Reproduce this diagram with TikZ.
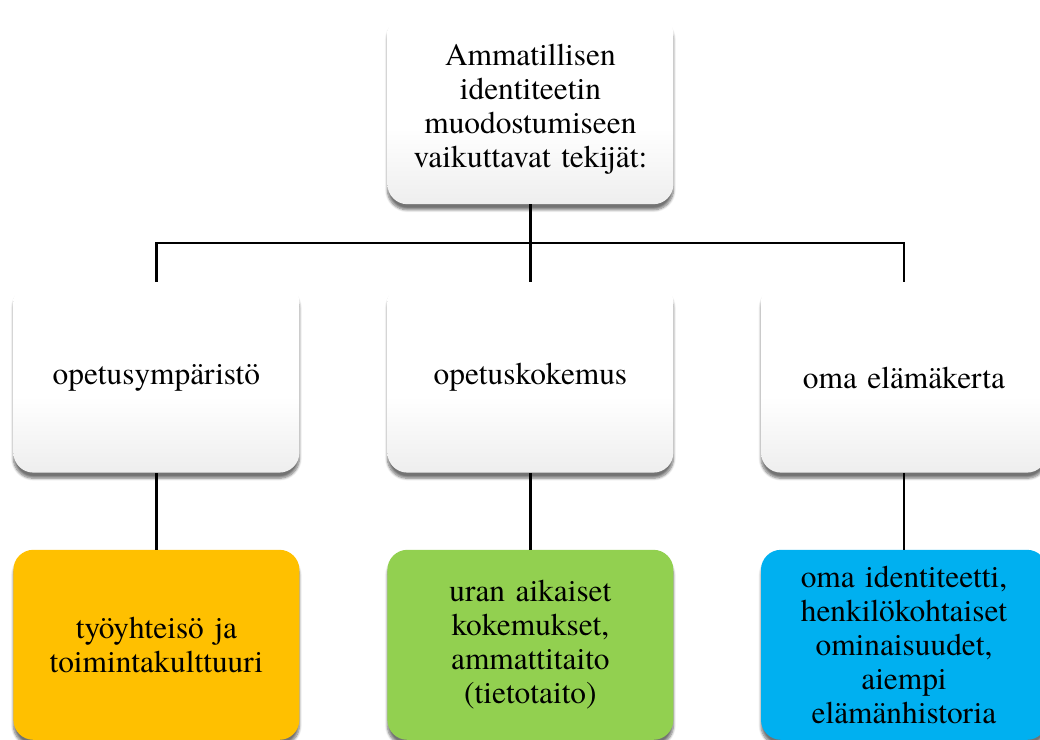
\documentclass[tikz,border=0pt]{standalone}
\usepackage{fontspec}
\setmainfont{texgyretermes-regular.otf}
\usepackage{tikz}
\usetikzlibrary{shadows.blur}

\definecolor{boxorange}{HTML}{FFC000}
\definecolor{boxgreen}{HTML}{92D050}
\definecolor{boxblue}{HTML}{00B0F0}
\pgfdeclareverticalshading{cardshade}{100bp}{color(0bp)=(black!15); color(45bp)=(white); color(100bp)=(white)}

\begin{document}
\begin{tikzpicture}[
        card/.style = {rounded corners=0.5cm, minimum width=7.15cm, minimum height=4.75cm,
                       text width=6.8cm, align=center, inner sep=0pt,
                       font=\rmfamily\fontsize{22.3}{24.3}\selectfont,
                       blur shadow={shadow xshift=0pt, shadow yshift=-4pt, shadow blur steps=7, shadow opacity=55}},
        greycard/.style = {card, shading=cardshade},
        link/.style = {line width=1.6pt}
    ]
                \useasboundingbox (0,0) rectangle (26,-18.5);

                % Top box
                \node[greycard] (top) at (13.26,-2.73) {Ammatillisen\\ identiteetin\\ muodostumiseen\\ vaikuttavat tekijät:};

                % Middle row
                \node[greycard] (env) at (3.91,-9.44) {opetusympäristö};
                \node[greycard] (exp) at (13.26,-9.44) {opetuskokemus};
                \node[greycard] (life) at (22.6,-9.44) {oma elämäkerta};

                % Bottom row
                \node[card, fill=boxorange] (work) at (3.91,-16.12) {työyhteisö ja\\ toimintakulttuuri};
                \node[card, fill=boxgreen] (career) at (13.26,-16.12) {uran aikaiset\\ kokemukset,\\ ammattitaito\\ (tietotaito)};
                \node[card, fill=boxblue] (self) at (22.6,-16.12) {oma identiteetti,\\ henkilökohtaiset\\ ominaisuudet,\\ aiempi\\ elämänhistoria};

                % Connectors
                \coordinate (bus) at (13.26,-6.08);
                \draw[link] (top.south) -- (bus);
                \draw[link] (bus) -| (env.north);
                \draw[link] (bus) -- (exp.north);
                \draw[link] (bus) -| (life.north);
                \draw[link] (env.south) -- (work.north);
                \draw[link] (exp.south) -- (career.north);
                \draw[link] (life.south) -- (self.north);
            \end{tikzpicture}
\end{document}
